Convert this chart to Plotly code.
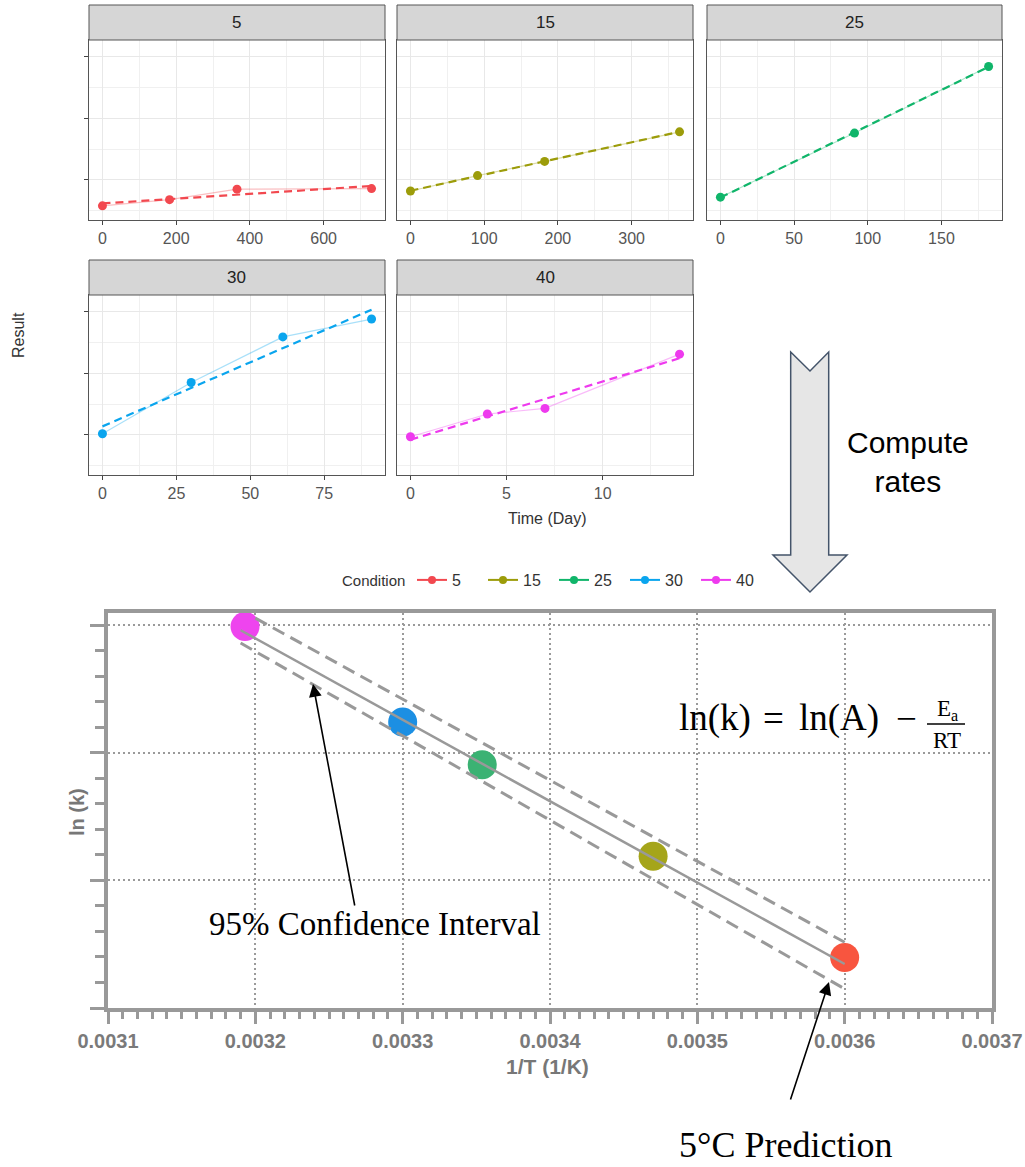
import numpy as np
import plotly.graph_objects as go

W, H = 1025, 1167
SANS = "Liberation Sans, Arial, sans-serif"
SERIF = "Liberation Serif, Times New Roman, serif"

# ---------------- data ----------------
conditions = ["5", "15", "25", "30", "40"]
colors_top = ["#F2484F", "#9C9C0A", "#10B56A", "#0AA5EE", "#EE3AEE"]

time_5 = [0, 182, 365, 730]
result_5 = [0.58, 0.68, 0.85, 0.86]
time_15 = [0, 91, 182, 365]
result_15 = [0.82, 1.07, 1.30, 1.78]
time_25 = [0, 91, 182]
result_25 = [0.72, 1.76, 2.84]
time_30 = [0, 30, 61, 91]
result_30 = [1.02, 1.85, 2.59, 2.88]
time_40 = [0, 4, 7, 14]
result_40 = [0.97, 1.34, 1.43, 2.31]

# Arrhenius plot (order: 40, 30, 25, 15, 5 C)
inv_T = [0.003193, 0.003300, 0.003354, 0.003470, 0.003600]
ln_k = [-2.02, -3.52, -4.19, -5.62, -7.21]
colors_bottom = ["#EE44EE", "#1C8FE3", "#3BB273", "#A5A51A", "#F8553F"]
fit_x = [0.00319, 0.00360]
fit_ln_k = [-2.08, -7.31]
ci_upper_x = [0.00320, 0.00360]
ci_upper = [-1.89, -6.97]
ci_lower_x = [0.00319, 0.00360]
ci_lower = [-2.28, -7.70]

# ---------------- helpers ----------------
def fx(p):
    return p / W

def fy(p):
    return 1 - p / H

fig = go.Figure()

panels = [
    ("5", time_5, result_5, "x", "y", [-36.5, 766.5], 200),
    ("15", time_15, result_15, "x2", "y2", [-18.25, 383.25], 100),
    ("25", time_25, result_25, "x3", "y3", [-9.1, 191.1], 50),
    ("30", time_30, result_30, "x4", "y4", [-4.55, 95.55], 25),
    ("40", time_40, result_40, "x5", "y5", [-0.7, 14.7], 5),
]

def rgba(hexc, a):
    h = hexc.lstrip("#")
    r, g, b = int(h[0:2], 16), int(h[2:4], 16), int(h[4:6], 16)
    return f"rgba({r},{g},{b},{a})"

for i, (name, t, r, xa, ya, rng, dt) in enumerate(panels):
    col = colors_top[i]
    fig.add_trace(go.Scatter(x=t, y=r, xaxis=xa, yaxis=ya, mode="lines",
                             line=dict(color=rgba(col, 0.35), width=1.2),
                             showlegend=False, hoverinfo="skip"))
    slope, icpt = np.polyfit(t, r, 1)
    xs = np.array([min(t), max(t)], dtype=float)
    fig.add_trace(go.Scatter(x=xs, y=slope * xs + icpt, xaxis=xa, yaxis=ya, mode="lines",
                             line=dict(color=col, width=2.2, dash="8px,5px"),
                             showlegend=False, hoverinfo="skip"))
    fig.add_trace(go.Scatter(x=t, y=r, xaxis=xa, yaxis=ya, mode="markers",
                             marker=dict(color=col, size=9),
                             showlegend=False))

# legend entries
for i, name in enumerate(conditions):
    fig.add_trace(go.Scatter(x=[None], y=[None], xaxis="x", yaxis="y", mode="lines+markers",
                             name=name, line=dict(color=colors_top[i], width=2),
                             marker=dict(color=colors_top[i], size=8), showlegend=True))

# bottom Arrhenius plot
fig.add_trace(go.Scatter(x=inv_T, y=ln_k, xaxis="x6", yaxis="y6", mode="markers",
                         marker=dict(color=colors_bottom, size=29, line=dict(width=0)),
                         showlegend=False))
fig.add_trace(go.Scatter(x=fit_x, y=fit_ln_k, xaxis="x6", yaxis="y6", mode="lines",
                         line=dict(color="#999999", width=2.5), showlegend=False))
fig.add_trace(go.Scatter(x=ci_upper_x, y=ci_upper, xaxis="x6", yaxis="y6", mode="lines",
                         line=dict(color="#999999", width=3, dash="13px,7px"), showlegend=False))
fig.add_trace(go.Scatter(x=ci_lower_x, y=ci_lower, xaxis="x6", yaxis="y6", mode="lines",
                         line=dict(color="#999999", width=3, dash="13px,7px"), showlegend=False))

# ---------------- axes ----------------
row1 = [fy(220), fy(40)]
row2 = [fy(475), fy(295)]
cols = [[fx(89), fx(385)], [fx(397), fx(693)], [fx(707), fx(1002)]]

def top_x(domain, rng, dt, anchor):
    return dict(domain=domain, range=rng, anchor=anchor, tick0=0, dtick=dt, automargin=False,
                showgrid=True, gridcolor="#E8E8E8", gridwidth=1,
                minor=dict(dtick=dt / 2, tick0=0, showgrid=True, gridcolor="#F0F0F0", gridwidth=1),
                ticks="outside", ticklen=4, tickcolor="#444", tickwidth=1,
                showline=True, mirror=True, linecolor="#555", linewidth=1, zeroline=False,
                tickfont=dict(family=SANS, size=16, color="#555"))

def top_y(domain, anchor, ticks):
    return dict(domain=domain, range=[0.35, 3.27], anchor=anchor, tick0=0, dtick=1,
                automargin=False,
                showticklabels=False, ticks="outside" if ticks else "", ticklen=4,
                tickcolor="#444", tickwidth=1,
                showgrid=True, gridcolor="#E8E8E8", gridwidth=1,
                minor=dict(dtick=0.5, tick0=0, showgrid=True, gridcolor="#F0F0F0", gridwidth=1),
                showline=True, mirror=True, linecolor="#555", linewidth=1, zeroline=False)

layout_axes = dict(
    xaxis=top_x(cols[0], panels[0][5], panels[0][6], "y"),
    yaxis=top_y(row1, "x", True),
    xaxis2=top_x(cols[1], panels[1][5], panels[1][6], "y2"),
    yaxis2=top_y(row1, "x2", False),
    xaxis3=top_x(cols[2], panels[2][5], panels[2][6], "y3"),
    yaxis3=top_y(row1, "x3", False),
    xaxis4=top_x(cols[0], panels[3][5], panels[3][6], "y4"),
    yaxis4=top_y(row2, "x4", True),
    xaxis5=top_x(cols[1], panels[4][5], panels[4][6], "y5"),
    yaxis5=top_y(row2, "x5", False),
    xaxis6=dict(domain=[fx(108), fx(992)], anchor="y6", range=[0.0031, 0.0037],
                automargin=False,
                tick0=0.0031, dtick=0.0001, tickformat=".4f",
                ticks="outside", ticklen=12, tickwidth=3, tickcolor="#999999",
                showgrid=True, gridcolor="#9A9A9A", gridwidth=2, griddash="2px,3px",
                minor=dict(dtick=0.00001, tick0=0.0031, ticks="outside", ticklen=7,
                           tickwidth=3, tickcolor="#999999", showgrid=False),
                showline=True, mirror=True, linewidth=4, linecolor="#999999", zeroline=False,
                tickfont=dict(family=SANS, size=20, color="#7A7A7A", weight="bold")),
    yaxis6=dict(domain=[fy(1008), fy(613)], anchor="x6", range=[-8, -1.81],
                automargin=False,
                tick0=-8, dtick=2, showticklabels=False,
                ticks="outside", ticklen=14, tickwidth=3, tickcolor="#999999",
                showgrid=True, gridcolor="#9A9A9A", gridwidth=2, griddash="2px,3px",
                minor=dict(dtick=0.4, tick0=-8, ticks="outside", ticklen=9,
                           tickwidth=3, tickcolor="#999999", showgrid=False),
                showline=True, mirror=True, linewidth=4, linecolor="#999999", zeroline=False),
)

# ---------------- shapes ----------------
shapes = []
strip_rows = [(5, 40), (260, 295)]
strip_panels = [(0, 0, "5"), (0, 1, "15"), (0, 2, "25"), (1, 0, "30"), (1, 1, "40")]
annotations = []
for rr, cc, label in strip_panels:
    y0p, y1p = strip_rows[rr]
    shapes.append(dict(type="rect", xref="paper", yref="paper",
                       x0=cols[cc][0], x1=cols[cc][1], y0=fy(y1p), y1=fy(y0p),
                       fillcolor="#D6D6D6", line=dict(color="#555", width=1), layer="above"))
    annotations.append(dict(xref="paper", yref="paper", x=(cols[cc][0] + cols[cc][1]) / 2,
                            y=fy((y0p + y1p) / 2), text=label, showarrow=False,
                            xanchor="center", yanchor="middle",
                            font=dict(family=SANS, size=17, color="#222")))

# big "compute rates" arrow
arrow_px = [(790.7, 352), (810, 371), (828.7, 352), (828.7, 555), (847, 555),
            (810, 592), (773, 555), (790.7, 555)]
path = "M " + " L ".join(f"{fx(x):.5f},{fy(y):.5f}" for x, y in arrow_px) + " Z"
shapes.append(dict(type="path", xref="paper", yref="paper", path=path,
                   fillcolor="#E6E6E6", line=dict(color="#44546A", width=1.5)))

# fraction bar of equation
shapes.append(dict(type="line", xref="paper", yref="paper",
                   x0=fx(927), x1=fx(965), y0=fy(724), y1=fy(724),
                   line=dict(color="black", width=1.5)))

# ---------------- annotations ----------------
def txt(x, y, text, size, color="black", family=SANS, angle=0, weight="normal", xanchor="center"):
    annotations.append(dict(xref="paper", yref="paper", x=fx(x), y=fy(y), text=text,
                            showarrow=False, xanchor=xanchor, yanchor="middle", textangle=angle,
                            font=dict(family=family, size=size, color=color, weight=weight)))

txt(18, 335, "Result", 16, "#333", angle=-90)
txt(547, 518, "Time (Day)", 16, "#333")
txt(908, 462, "Compute<br>rates", 30, "black")
txt(77, 812, "ln (k)", 20, "#777", angle=-90, weight="bold")
txt(547, 1066, "1/T (1/K)", 21, "#777", weight="bold")
txt(373, 580, "Condition", 15, "#333")

# equation
txt(677, 718, "ln(k)", 37, "black", family=SERIF, xanchor="left")
txt(773, 718, "=", 37, "black", family=SERIF)
txt(797, 718, "ln(A)", 37, "black", family=SERIF, xanchor="left")
txt(906, 718, "\u2212", 37, "black", family=SERIF)
txt(947, 710, "E<sub>a</sub>", 23, "black", family=SERIF)
txt(947, 741, "RT", 23, "black", family=SERIF)

txt(375, 924, "95% Confidence Interval", 33, "black", family=SERIF)
txt(785, 1145, "5\u00b0C Prediction", 36, "black", family=SERIF)

# arrows (tip in data coords, tail as pixel offset)
def xdat(p):
    return 0.0031 + (p - 108) / 884.0 * 0.0006

def ydat(p):
    return -1.81 - (p - 613) / 395.0 * 6.19

annotations.append(dict(xref="x6", yref="y6", x=xdat(313), y=ydat(684),
                        ax=42, ay=223, axref="pixel", ayref="pixel",
                        text="", showarrow=True, arrowhead=2, arrowsize=1.6, arrowwidth=1.6,
                        arrowcolor="black"))
annotations.append(dict(xref="x6", yref="y6", x=xdat(829), y=ydat(982),
                        ax=-39, ay=119, axref="pixel", ayref="pixel",
                        text="", showarrow=True, arrowhead=2, arrowsize=1.6, arrowwidth=1.6,
                        arrowcolor="black"))

fig.update_layout(
    width=W, height=H,
    margin=dict(l=0, r=0, t=0, b=0, autoexpand=False),
    paper_bgcolor="white", plot_bgcolor="white",
    shapes=shapes, annotations=annotations,
    legend=dict(orientation="h", x=fx(412), xanchor="left", y=fy(580), yanchor="middle",
                font=dict(family=SANS, size=16, color="#333"), bgcolor="rgba(0,0,0,0)",
                itemwidth=30, entrywidth=26),
    showlegend=True,
    **layout_axes,
)

fig.write_html("out.html")
